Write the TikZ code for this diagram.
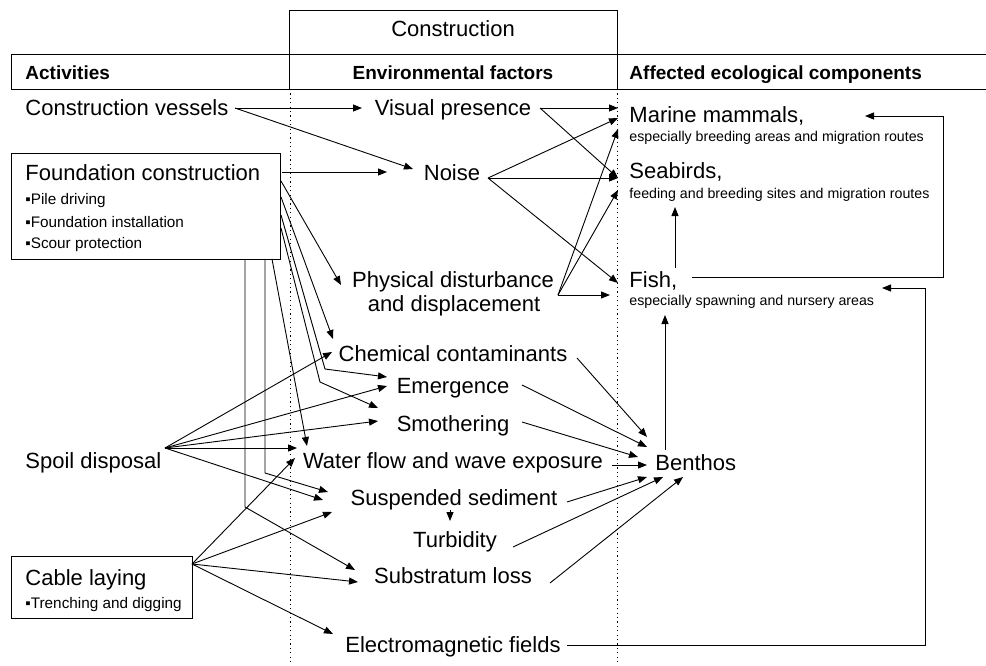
\documentclass[tikz,border=0pt]{standalone}
\usepackage{fontspec}
\setmainfont{Liberation Sans}
\usetikzlibrary{arrows.meta}
\begin{document}
\begin{tikzpicture}[x=1pt,y=-1pt,
  line width=0.9pt,
  arr/.style={-{Triangle[length=9pt,width=7pt]}},
  big/.style={inner sep=0pt,font=\fontsize{22}{26}\selectfont},
  hdr/.style={inner sep=0pt,font=\fontsize{19}{22}\selectfont\bfseries},
  small/.style={inner sep=0pt,font=\fontsize{14.2}{16}\selectfont},
  bul/.style={inner sep=0pt,font=\fontsize{15.3}{17}\selectfont},
  dots/.style={line width=1pt,dash pattern=on 1.2pt off 3.2pt},
  boxed/.style={draw,inner sep=0pt,anchor=north west},
]
\useasboundingbox (0,0) rectangle (986,665);
% ---------- header ----------
\draw (289,54) -- (289,10) -- (617,10) -- (617,54);
\draw (986,54) -- (11,54) -- (11,89) -- (986,89);
\draw (289,54) -- (289,89);
\draw (617,54) -- (617,89);
\node[big,anchor=base] (hc) at (453,36) {Construction};
\node[hdr,anchor=base west] (ha) at (25,79) {Activities};
\node[hdr,anchor=base] (he) at (453,79) {Environmental factors};
\node[hdr,anchor=base west] (hf) at (629,79) {Affected ecological components};
\draw[dots] (290,89) -- (290,665);
\draw[dots] (617,89) -- (617,665);
% ---------- activity boxes ----------
\node[boxed,minimum width=269pt,minimum height=106pt] (fbox) at (11,153) {};
\node[boxed,minimum width=181pt,minimum height=62pt] (cbox) at (11,556) {};
% ---------- activities ----------
\node[big,anchor=base west] (cv) at (25,115) {Construction vessels};
\node[big,anchor=base west] (fc) at (25,180) {Foundation construction};
\node[bul,anchor=base west] (b1) at (25,204) {▪Pile driving};
\node[bul,anchor=base west] (b2) at (25,227) {▪Foundation installation};
\node[bul,anchor=base west] (b3) at (25,248) {▪Scour protection};
\node[big,anchor=base west] (sd) at (25,468) {Spoil disposal};
\node[big,anchor=base west] (cl) at (25,585) {Cable laying};
\node[bul,anchor=base west] (b4) at (25,608) {▪Trenching and digging};
% ---------- environmental factors ----------
\node[big,anchor=base] (vp) at (453,115) {Visual presence};
\node[big,anchor=base] (ns) at (452,180) {Noise};
\node[big,anchor=base] (pd) at (453,287) {Physical disturbance};
\node[big,anchor=base] (pd2) at (454,311) {and displacement};
\node[big,anchor=base] (cc) at (453,361) {Chemical contaminants};
\node[big,anchor=base] (em) at (453,393) {Emergence};
\node[big,anchor=base] (sm) at (453,431) {Smothering};
\node[big,anchor=base] (wf) at (453,468) {Water flow and wave exposure};
\node[big,anchor=base] (ss) at (454,505) {Suspended sediment};
\node[big,anchor=base] (tu) at (455,547) {Turbidity};
\node[big,anchor=base] (sl) at (453,583) {Substratum loss};
\node[big,anchor=base] (ef) at (453,652) {Electromagnetic fields};
% ---------- affected components ----------
\node[big,anchor=base west] (mm) at (629,122) {Marine mammals,};
\node[small,anchor=base west] (mm2) at (629,141) {especially breeding areas and migration routes};
\node[big,anchor=base west] (sb) at (629,178) {Seabirds,};
\node[small,anchor=base west] (sb2) at (629,198) {feeding and breeding sites and migration routes};
\node[big,anchor=base west] (fi) at (629,287) {Fish,};
\node[small,anchor=base west] (fi2) at (629,305) {especially spawning and nursery areas};
\node[big,anchor=base west] (be) at (655,470) {Benthos};
% ---------- ports ----------
\coordinate (cvO) at (235,108);
\coordinate (vpI) at (362,108);
\coordinate (nsI1) at (413,169);
\coordinate (fcO1) at (282,172);
\coordinate (nsI2) at (387,172);
\coordinate (fcO2) at (281,181);
\coordinate (pdI) at (341,285);
\coordinate (fcO3) at (281,197);
\coordinate (ccI1) at (333,339);
\coordinate (fcO4) at (281,215);
\coordinate (fcB4) at (325,369);
\coordinate (emI1) at (387,377);
\coordinate (fcO5) at (281,228);
\coordinate (fcB5) at (320,382);
\coordinate (smI1) at (378,408);
\coordinate (fcO6) at (272,259);
\coordinate (wfI1) at (307,446);
\coordinate (fcO7) at (265,259);
\coordinate (fcB7) at (265,473);
\coordinate (ssI1) at (328,492);
\coordinate (fcO8) at (245,259);
\coordinate (fcB8) at (245,507);
\coordinate (slI1) at (355,570);
\coordinate (sdO) at (165,448);
\coordinate (ccI2) at (332,352);
\coordinate (emI2) at (387,386);
\coordinate (smI2) at (378,421);
\coordinate (wfI2) at (297,448);
\coordinate (ssI2) at (323,500);
\coordinate (clO) at (192,564);
\coordinate (wfI3) at (295,458);
\coordinate (ssI3) at (332,512);
\coordinate (slI2) at (358,582);
\coordinate (efI) at (333,634);
\coordinate (vpO) at (540,108);
\coordinate (mmI1) at (618,108);
\coordinate (sbI1) at (618,178);
\coordinate (nsO) at (488,178);
\coordinate (mmI2) at (618,118);
\coordinate (fiI1) at (618,283);
\coordinate (pdO) at (558,295);
\coordinate (mmI3) at (618,129);
\coordinate (sbI2) at (618,190);
\coordinate (fiI2) at (610,295);
\coordinate (ccO) at (577,358);
\coordinate (beI1) at (647,437);
\coordinate (emO) at (522,385);
\coordinate (beI2) at (647,447);
\coordinate (smO) at (522,422);
\coordinate (beI3) at (638,457);
\coordinate (wfO) at (612,465);
\coordinate (beI4) at (647,465);
\coordinate (ssO) at (567,502);
\coordinate (beI5) at (647,477);
\coordinate (tuO) at (513,547);
\coordinate (beI6) at (663,477);
\coordinate (slO) at (550,583);
\coordinate (beI7) at (683,477);
\coordinate (ssD) at (450,510);
\coordinate (tuI) at (450,521);
\coordinate (beO) at (665,450);
\coordinate (fiI3) at (665,315);
\coordinate (fiO1) at (675,268);
\coordinate (sbI3) at (675,207);
\coordinate (fiO2) at (692,277);
\coordinate (mmI4) at (865,116);
\coordinate (efO) at (567,645);
\coordinate (fiI4) at (882,288);
% ---------- activities -> factors ----------
\draw[arr] (cvO) -- (vpI);
\draw[arr] (cvO) -- (nsI1);
\draw[arr] (fcO1) -- (nsI2);
\draw[arr] (fcO2) -- (pdI);
\draw[arr] (fcO3) -- (ccI1);
\draw[arr] (fcO4) -- (fcB4) -- (emI1);
\draw[arr] (fcO5) -- (fcB5) -- (smI1);
\draw[arr] (fcO6) -- (wfI1);
\draw[arr] (fcO7) -- (fcB7) -- (ssI1);
\draw[arr] (fcO8) -- (fcB8) -- (slI1);
\draw[arr] (sdO) -- (ccI2);
\draw[arr] (sdO) -- (emI2);
\draw[arr] (sdO) -- (smI2);
\draw[arr] (sdO) -- (wfI2);
\draw[arr] (sdO) -- (ssI2);
\draw[arr] (clO) -- (wfI3);
\draw[arr] (clO) -- (ssI3);
\draw[arr] (clO) -- (slI2);
\draw[arr] (clO) -- (efI);
% ---------- factors -> components ----------
\draw[arr] (vpO) -- (mmI1);
\draw[arr] (vpO) -- (sbI1);
\draw[arr] (nsO) -- (mmI2);
\draw[arr] (nsO) -- (sbI1);
\draw[arr] (nsO) -- (fiI1);
\draw[arr] (pdO) -- (mmI3);
\draw[arr] (pdO) -- (sbI2);
\draw[arr] (pdO) -- (fiI2);
\draw[arr] (ccO) -- (beI1);
\draw[arr] (emO) -- (beI2);
\draw[arr] (smO) -- (beI3);
\draw[arr] (wfO) -- (beI4);
\draw[arr] (ssO) -- (beI5);
\draw[arr] (tuO) -- (beI6);
\draw[arr] (slO) -- (beI7);
\draw[arr] (ssD) -- (tuI);
% ---------- feedback ----------
\draw[arr] (beO) -- (fiI3);
\draw[arr] (fiO1) -- (sbI3);
\draw[arr] (fiO2) -- (943,277) -- (943,116) -- (mmI4);
\draw[arr] (efO) -- (925,645) -- (925,288) -- (fiI4);
\end{tikzpicture}
\end{document}
